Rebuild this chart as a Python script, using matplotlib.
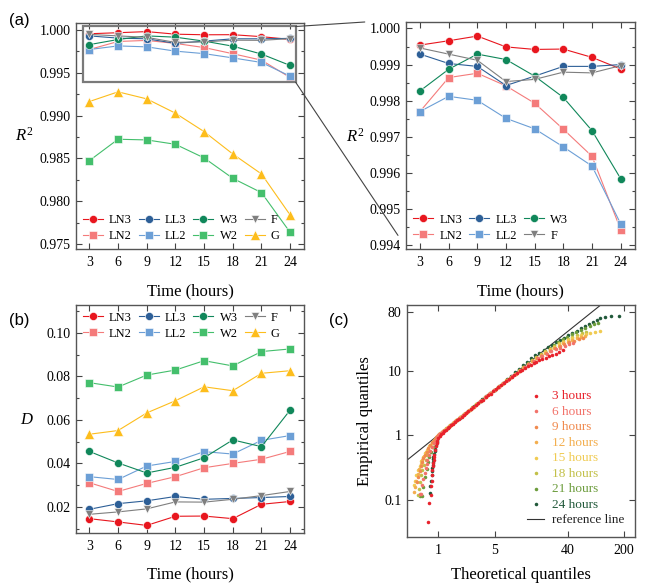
import numpy as np
import matplotlib
matplotlib.use("Agg")
import matplotlib.pyplot as plt
from matplotlib.patches import Rectangle, ConnectionPatch
from matplotlib.ticker import MultipleLocator, FormatStrFormatter, NullLocator

plt.rcParams["font.family"] = "serif"
plt.rcParams["font.serif"] = ["Liberation Serif", "DejaVu Serif"]
plt.rcParams["mathtext.fontset"] = "custom"
plt.rcParams["mathtext.rm"] = "Liberation Serif"
plt.rcParams["mathtext.it"] = "Liberation Serif:italic"

# ---- data ----
hours = [3, 6, 9, 12, 15, 18, 21, 24]
models = ["LN3", "LN2", "LL3", "LL2", "W3", "W2", "F", "G"]

# R^2 per model
r2_ln3 = [0.99954, 0.99966, 0.99979, 0.99949, 0.99942, 0.99943, 0.99920, 0.99888]
r2_ln2 = [0.99770, 0.99864, 0.99876, 0.99841, 0.99793, 0.99721, 0.99646, 0.99443]
r2_ll3 = [0.99929, 0.99903, 0.99895, 0.99842, 0.99868, 0.99895, 0.99895, 0.99900]
r2_ll2 = [0.99770, 0.99812, 0.99801, 0.99751, 0.99722, 0.99672, 0.99619, 0.99459]
r2_w3 = [0.99827, 0.99887, 0.99929, 0.99914, 0.99868, 0.99809, 0.99717, 0.99584]
r2_w2 = [0.98473, 0.98723, 0.98715, 0.98664, 0.98505, 0.98267, 0.98100, 0.97636]
r2_f = [0.99946, 0.99929, 0.99912, 0.99853, 0.99859, 0.99879, 0.99877, 0.99897]
r2_g = [0.99163, 0.99276, 0.99194, 0.99027, 0.98812, 0.98551, 0.98318, 0.97839]

# KS statistic D per model
d_ln3 = [0.0146, 0.0131, 0.0115, 0.0157, 0.0158, 0.0146, 0.0212, 0.0225]
d_ln2 = [0.0311, 0.0271, 0.0308, 0.0339, 0.0380, 0.0400, 0.0419, 0.0455]
d_ll3 = [0.0189, 0.0215, 0.0228, 0.0248, 0.0235, 0.0239, 0.0243, 0.0248]
d_ll2 = [0.0339, 0.0326, 0.0388, 0.0409, 0.0454, 0.0443, 0.0506, 0.0528]
d_w3 = [0.0455, 0.0402, 0.0356, 0.0382, 0.0426, 0.0508, 0.0477, 0.0645]
d_w2 = [0.0771, 0.0751, 0.0806, 0.0829, 0.0872, 0.0848, 0.0914, 0.0926]
d_f = [0.0166, 0.0177, 0.0191, 0.0223, 0.0222, 0.0235, 0.0252, 0.0271]
d_g = [0.0534, 0.0551, 0.0632, 0.0688, 0.0752, 0.0734, 0.0814, 0.0826]

# QQ points (theoretical, empirical) per aggregation time
qq_3h = [(0.76, 0.045), (0.78, 0.091), (0.81, 0.119), (0.82, 0.164), (0.83, 0.20), (0.84, 0.243),
         (0.85, 0.29), (0.86, 0.33), (0.87, 0.37), (0.88, 0.415), (0.89, 0.46), (0.90, 0.50),
         (0.92, 0.593), (0.94, 0.68), (0.96, 0.752), (0.98, 0.82), (1.01, 0.90), (1.05, 0.97),
         (1.09, 1.03), (1.14, 1.10), (1.19, 1.16), (1.25, 1.22), (1.31, 1.29), (1.38, 1.36),
         (1.45, 1.43), (1.53, 1.51), (1.62, 1.60), (1.72, 1.70), (1.83, 1.81), (1.95, 1.93),
         (2.08, 2.06), (2.22, 2.20), (2.37, 2.35), (2.54, 2.52), (2.72, 2.70), (2.92, 2.89),
         (3.13, 3.10), (3.36, 3.33), (3.61, 3.57), (3.88, 3.84), (4.17, 4.12), (4.48, 4.42),
         (4.82, 4.75), (5.19, 5.11), (5.59, 5.50), (6.02, 5.91), (6.49, 6.36), (6.99, 6.84),
         (7.53, 7.35), (8.11, 7.89), (8.74, 8.46), (9.42, 9.05), (10.2, 9.70), (11.0, 10.3),
         (11.9, 10.95), (12.9, 11.6), (14.0, 12.3), (15.2, 13.0), (16.5, 13.7), (18.0, 14.4),
         (19.6, 15.1), (21.5, 15.8), (23.6, 16.5), (26.0, 17.3), (28.7, 18.2), (31.8, 19.3),
         (35.5, 20.8)]
qq_6h = [(0.60, 0.124), (0.62, 0.125), (0.64, 0.17), (0.66, 0.21), (0.68, 0.26), (0.70, 0.31),
         (0.72, 0.36), (0.74, 0.42), (0.77, 0.50), (0.80, 0.58), (0.84, 0.67), (0.88, 0.76),
         (0.93, 0.86), (0.98, 0.95), (1.04, 1.03), (1.12, 1.12), (1.22, 1.22), (1.34, 1.34),
         (1.48, 1.49), (1.64, 1.65), (1.83, 1.84), (2.05, 2.07), (2.30, 2.32), (2.60, 2.62),
         (2.95, 2.98), (3.35, 3.38), (3.80, 3.84), (4.30, 4.35), (4.90, 4.95), (5.60, 5.62),
         (6.40, 6.40), (7.30, 7.25), (8.30, 8.20), (9.40, 9.20), (10.6, 10.3), (12.0, 11.5),
         (13.5, 12.7), (15.2, 14.0), (17.2, 15.4), (19.5, 16.9), (22.0, 18.3), (25.0, 19.7),
         (28.5, 21.2), (32.5, 22.7), (37.0, 24.2), (42.0, 25.6), (47.0, 27.0)]
qq_9h = [(0.55, 0.19), (0.57, 0.23), (0.59, 0.28), (0.61, 0.33), (0.63, 0.38), (0.66, 0.44),
         (0.69, 0.50), (0.72, 0.56), (0.76, 0.63), (0.80, 0.70), (0.85, 0.78), (0.90, 0.86),
         (0.95, 0.93), (1.00, 1.00), (1.08, 1.09), (1.18, 1.19), (1.30, 1.31), (1.43, 1.45),
         (1.58, 1.60), (1.75, 1.77), (1.95, 1.97), (2.18, 2.20), (2.45, 2.47), (2.75, 2.78),
         (3.10, 3.13), (3.50, 3.53), (3.95, 3.99), (4.45, 4.50), (5.00, 5.05), (5.65, 5.70),
         (6.40, 6.42), (7.20, 7.20), (8.10, 8.05), (9.10, 9.00), (10.3, 10.1), (11.6, 11.2),
         (13.1, 12.5), (14.8, 13.9), (16.7, 15.4), (18.9, 16.9), (21.5, 18.5), (24.5, 20.2),
         (28.0, 22.0), (32.0, 23.8), (36.5, 25.5), (42.0, 27.2), (48.0, 28.8), (55.0, 30.2),
         (62.0, 31.5)]
qq_12h = [(0.50, 0.134), (0.52, 0.16), (0.54, 0.20), (0.56, 0.25), (0.58, 0.30), (0.61, 0.36),
          (0.64, 0.42), (0.67, 0.48), (0.71, 0.55), (0.75, 0.62), (0.80, 0.70), (0.86, 0.79),
          (0.92, 0.88), (0.98, 0.96), (1.06, 1.07), (1.16, 1.17), (1.28, 1.29), (1.41, 1.43),
          (1.56, 1.58), (1.73, 1.75), (1.92, 1.95), (2.14, 2.17), (2.40, 2.43), (2.70, 2.73),
          (3.05, 3.09), (3.45, 3.49), (3.90, 3.95), (4.40, 4.45), (4.95, 5.00), (5.60, 5.65),
          (6.30, 6.33), (7.10, 7.10), (8.00, 7.97), (9.00, 8.92), (10.2, 10.0), (11.5, 11.2),
          (13.0, 12.5), (14.7, 14.0), (16.6, 15.5), (18.8, 17.1), (21.3, 18.8), (24.2, 20.6),
          (27.5, 22.4), (31.3, 24.3), (35.6, 26.2), (40.5, 28.0), (46.0, 29.8), (52.0, 31.4),
          (59.0, 32.8), (66.0, 34.0)]
qq_15h = [(0.50, 0.17), (0.52, 0.20), (0.54, 0.24), (0.56, 0.29), (0.59, 0.34), (0.62, 0.40),
          (0.65, 0.46), (0.69, 0.53), (0.73, 0.60), (0.78, 0.68), (0.84, 0.77), (0.90, 0.86),
          (0.96, 0.94), (1.03, 1.04), (1.13, 1.14), (1.24, 1.25), (1.37, 1.39), (1.52, 1.54),
          (1.68, 1.71), (1.87, 1.90), (2.09, 2.12), (2.34, 2.37), (2.63, 2.67), (2.96, 3.00),
          (3.35, 3.39), (3.80, 3.84), (4.30, 4.34), (4.85, 4.90), (5.50, 5.55), (6.20, 6.25),
          (7.00, 7.02), (7.90, 7.90), (8.90, 8.85), (10.0, 9.9), (11.3, 11.1), (12.8, 12.5),
          (14.5, 14.0), (16.4, 15.6), (18.6, 17.3), (21.1, 19.2), (24.0, 21.2), (27.3, 23.2),
          (31.0, 25.3), (35.3, 27.4), (40.0, 29.5), (45.5, 31.4), (52.0, 33.2), (59.0, 35.0),
          (67.0, 36.6), (76.0, 38.0), (87.0, 39.5), (100.0, 41.0)]
qq_18h = [(0.56, 0.12), (0.58, 0.15), (0.60, 0.19), (0.62, 0.24), (0.64, 0.29), (0.67, 0.35),
          (0.70, 0.42), (0.74, 0.50), (0.78, 0.58), (0.83, 0.67), (0.88, 0.77), (0.94, 0.87),
          (0.99, 0.97), (1.05, 1.06), (1.15, 1.16), (1.26, 1.28), (1.39, 1.41), (1.54, 1.56),
          (1.70, 1.73), (1.89, 1.92), (2.11, 2.14), (2.36, 2.40), (2.65, 2.69), (2.98, 3.02),
          (3.37, 3.41), (3.82, 3.86), (4.32, 4.37), (4.88, 4.94), (5.52, 5.58), (6.24, 6.30),
          (7.05, 7.08), (7.95, 7.95), (8.95, 8.92), (10.1, 10.0), (11.4, 11.3), (12.9, 12.7),
          (14.6, 14.3), (16.5, 16.0), (18.7, 17.8), (21.2, 19.8), (24.1, 21.9), (27.4, 24.1),
          (31.2, 26.4), (35.5, 28.7), (40.4, 31.0), (46.0, 33.4), (52.5, 35.7), (60.0, 37.8),
          (68.0, 39.5)]
qq_21h = [(0.60, 0.115), (0.63, 0.115), (0.66, 0.16), (0.69, 0.229), (0.72, 0.30), (0.75, 0.38),
          (0.78, 0.46), (0.82, 0.55), (0.86, 0.65), (0.90, 0.75), (0.95, 0.86), (0.99, 0.96),
          (1.04, 1.05), (1.14, 1.15), (1.25, 1.27), (1.38, 1.40), (1.53, 1.55), (1.69, 1.72),
          (1.88, 1.91), (2.10, 2.13), (2.35, 2.39), (2.64, 2.68), (2.97, 3.01), (3.36, 3.40),
          (3.80, 3.85), (4.30, 4.36), (4.87, 4.93), (5.50, 5.57), (6.22, 6.30), (7.03, 7.10),
          (7.94, 8.00), (8.96, 9.00), (10.1, 10.1), (11.4, 11.4), (12.9, 12.9), (14.6, 14.5),
          (16.5, 16.3), (18.7, 18.3), (21.2, 20.4), (24.0, 22.7), (27.2, 25.1), (30.8, 27.7),
          (35.0, 30.4), (39.7, 33.3), (45.0, 36.3), (51.0, 39.4), (58.0, 42.5), (66.0, 45.7),
          (75.0, 49.0), (85.0, 51.5), (96.0, 53.5)]
qq_24h = [(0.79, 0.13), (0.80, 0.164), (0.82, 0.20), (0.83, 0.243), (0.84, 0.28), (0.845, 0.309),
          (0.855, 0.35), (0.86, 0.391), (0.87, 0.43), (0.875, 0.467), (0.89, 0.52), (0.905, 0.57),
          (0.918, 0.62), (0.94, 0.70), (0.96, 0.78), (0.98, 0.86), (1.00, 0.93), (1.06, 1.04),
          (1.13, 1.12), (1.21, 1.21), (1.31, 1.31), (1.42, 1.42), (1.55, 1.56), (1.70, 1.71),
          (1.87, 1.88), (2.06, 2.08), (2.28, 2.30), (2.53, 2.56), (2.82, 2.85), (3.15, 3.19),
          (3.53, 3.58), (3.96, 4.02), (4.45, 4.52), (5.00, 5.08), (5.62, 5.72), (6.32, 6.45),
          (7.10, 7.28), (7.98, 8.25), (8.97, 9.35), (10.1, 10.6), (11.3, 12.0), (12.7, 13.6),
          (14.3, 15.4), (16.0, 17.2), (18.0, 19.0), (20.2, 20.9), (22.7, 22.9), (25.5, 24.9),
          (28.7, 27.2), (32.3, 29.7), (36.3, 32.3), (40.8, 35.0), (46.0, 38.0), (52.0, 41.5),
          (58.0, 45.0), (65.0, 49.0), (73.0, 53.0), (82.0, 57.0), (92.0, 61.0), (101.0, 64.0),
          (117.0, 67.0), (137.0, 70.0), (174.0, 70.0)]
qq_labels = ["3 hours", "6 hours", "9 hours", "12 hours", "15 hours", "18 hours", "21 hours", "24 hours"]
ref_line = [0.3, 300]

# ---- styles ----
model_colors = {"LN3": "#e8161e", "LN2": "#f47b7b", "LL3": "#2d5f97", "LL2": "#6c9fd6",
                "W3": "#10875a", "W2": "#44bf6c", "F": "#7f7f7f", "G": "#fdbd1c"}
model_markers = {"LN3": "o", "LN2": "s", "LL3": "o", "LL2": "s",
                 "W3": "o", "W2": "s", "F": "v", "G": "^"}
marker_sizes = {"o": 5.8, "s": 5.2, "v": 6.0, "^": 6.5}
qq_colors = ["#e8222c", "#f2726a", "#f08a4e", "#f3ae4e", "#f0cb52", "#c2c048", "#6c9c3c", "#21593a"]

r2_data = dict(zip(models, [r2_ln3, r2_ln2, r2_ll3, r2_ll2, r2_w3, r2_w2, r2_f, r2_g]))
d_data = dict(zip(models, [d_ln3, d_ln2, d_ll3, d_ll2, d_w3, d_w2, d_f, d_g]))
qq_data = [qq_3h, qq_6h, qq_9h, qq_12h, qq_15h, qq_18h, qq_21h, qq_24h]

fig = plt.figure(figsize=(6.5, 5.88), dpi=100)
ax1 = fig.add_axes([0.1169, 0.5765, 0.3508, 0.3852])
ax2 = fig.add_axes([0.6246, 0.5765, 0.3523, 0.3861])
ax3 = fig.add_axes([0.1169, 0.0935, 0.3508, 0.3878])
ax4 = fig.add_axes([0.6262, 0.0867, 0.3508, 0.3946])


def style(ax):
    ax.tick_params(which="both", direction="in", top=True, right=True, labelsize=10,
                   color="#444444", width=0.8)
    ax.tick_params(which="major", length=4.5)
    ax.tick_params(which="minor", length=2.5)
    ax.tick_params(axis="x", pad=5)
    ax.tick_params(axis="y", pad=4)
    for s in ax.spines.values():
        s.set_color("#555555")
        s.set_linewidth(1.0)


def draw_lines(ax, data, names):
    for m in names:
        mk = model_markers[m]
        ax.plot(hours, data[m], color=model_colors[m], lw=0.8, marker=mk,
                ms=marker_sizes[mk], mec="white", mew=0.4, label=m)


def model_legend(ax, names, ncol, **kw):
    h, l = ax.get_legend_handles_labels()
    lookup = dict(zip(l, h))
    ax.legend([lookup[n] for n in names], names, ncol=ncol, frameon=False, fontsize=9,
              handlelength=1.6, handletextpad=0.5, columnspacing=0.55, labelspacing=0.3,
              borderpad=0.2, **kw)


# (a) left: R^2 all models
draw_lines(ax1, r2_data, models)
ax1.set_xlim(1.6, 25.45)
ax1.set_ylim(0.97442, 1.00085)
ax1.set_xticks(hours)
ax1.yaxis.set_major_locator(MultipleLocator(0.005))
ax1.yaxis.set_minor_locator(MultipleLocator(0.0025))
ax1.yaxis.set_major_formatter(FormatStrFormatter("%.3f"))
ax1.set_xlabel("Time (hours)", fontsize=12)
ax1.xaxis.set_label_coords(0.5, -0.15)
ax1.set_ylabel(r"$R^2$", fontsize=12, rotation=0, va="center", ha="center")
ax1.yaxis.set_label_coords(-0.225, 0.5)
style(ax1)
model_legend(ax1, ["LN3", "LN2", "LL3", "LL2", "W3", "W2", "F", "G"], 4,
             loc="lower left", borderaxespad=0.35)
ax1.add_patch(Rectangle((2.37, 0.99389), 24.57 - 2.37, 1.000386 - 0.99389, fill=False,
                        ec="#7a7a7a", lw=1.6, zorder=6))

# (a) right: zoom of the best models
zoom_models = ["LN3", "LN2", "LL3", "LL2", "W3", "F"]
draw_lines(ax2, r2_data, zoom_models)
ax2.set_xlim(1.535, 25.5)
ax2.set_ylim(0.99389, 1.00018)
ax2.set_xticks(hours)
ax2.yaxis.set_major_locator(MultipleLocator(0.001))
ax2.yaxis.set_minor_locator(MultipleLocator(0.0005))
ax2.yaxis.set_major_formatter(FormatStrFormatter("%.3f"))
ax2.set_xlabel("Time (hours)", fontsize=12)
ax2.xaxis.set_label_coords(0.5, -0.15)
ax2.set_ylabel(r"$R^2$", fontsize=12, rotation=0, va="center", ha="center")
ax2.yaxis.set_label_coords(-0.22, 0.495)
style(ax2)
model_legend(ax2, ["LN3", "LN2", "LL3", "LL2", "W3", "F"], 3,
             loc="lower left", borderaxespad=0.4)

# lines linking the inset box to the zoomed panel
for ya, xb, yb in [(1.000386, -0.18, 1.0), (0.99389, -0.035, 0.06)]:
    con = ConnectionPatch(xyA=(24.57, ya), coordsA=ax1.transData, xyB=(xb, yb),
                          coordsB=ax2.transAxes, color="#444444", lw=0.8)
    fig.add_artist(con)

# (b) D statistic
draw_lines(ax3, d_data, models)
ax3.set_xlim(1.6, 25.45)
ax3.set_ylim(0.008, 0.1128)
ax3.set_xticks(hours)
ax3.yaxis.set_major_locator(MultipleLocator(0.02))
ax3.yaxis.set_minor_locator(MultipleLocator(0.01))
ax3.yaxis.set_major_formatter(FormatStrFormatter("%.2f"))
ax3.set_xlabel("Time (hours)", fontsize=12)
ax3.xaxis.set_label_coords(0.5, -0.148)
ax3.set_ylabel("D", fontsize=12, fontstyle="italic", rotation=0, va="center", ha="center")
ax3.yaxis.set_label_coords(-0.217, 0.496)
style(ax3)
model_legend(ax3, ["LN3", "LN2", "LL3", "LL2", "W3", "W2", "F", "G"], 4,
             loc="upper left", borderaxespad=0.35)

# (c) QQ plot
for pts, c, lab in reversed(list(zip(qq_data, qq_colors, qq_labels))):
    arr = np.array(pts)
    ax4.scatter(arr[:, 0], arr[:, 1], s=6.5, color=c, linewidths=0, label=lab, zorder=3)
ax4.plot(ref_line, ref_line, color="#333333", lw=0.8, label="reference line", zorder=2)
ax4.set_xscale("log")
ax4.set_yscale("log")
ax4.set_xlim(0.413, 274)
ax4.set_ylim(0.0268, 103)
ax4.set_xticks([1, 5, 40, 200])
ax4.set_xticklabels(["1", "5", "40", "200"])
ax4.set_yticks([0.1, 1, 10, 80])
ax4.set_yticklabels(["0.1", "1", "10", "80"])
ax4.xaxis.set_minor_locator(NullLocator())
ax4.yaxis.set_minor_locator(NullLocator())
ax4.set_xlabel("Theoretical quantiles", fontsize=12)
ax4.xaxis.set_label_coords(0.5, -0.13)
ax4.set_ylabel("Empirical quantiles", fontsize=12, va="center")
ax4.yaxis.set_label_coords(-0.184, 0.5)
style(ax4)
h, l = ax4.get_legend_handles_labels()
lookup = dict(zip(l, h))
order = qq_labels + ["reference line"]
leg = ax4.legend([lookup[n] for n in order], order, loc="lower right", frameon=False,
                 fontsize=9.5, handlelength=1.3, handletextpad=0.6, labelspacing=0.25,
                 scatterpoints=1, markerscale=1.0, borderpad=0.2, borderaxespad=0.6)
for t, c in zip(leg.get_texts(), qq_colors + ["#222222"]):
    t.set_color(c)

# panel tags
fig.text(9 / 650, 1 - 21 / 588, "(a)", family="Liberation Sans", fontsize=12, va="center")
fig.text(9 / 650, 1 - 321 / 588, "(b)", family="Liberation Sans", fontsize=12, va="center")
fig.text(329 / 650, 1 - 320 / 588, "(c)", family="Liberation Sans", fontsize=12, va="center")

fig.savefig("out.png", dpi=100)
